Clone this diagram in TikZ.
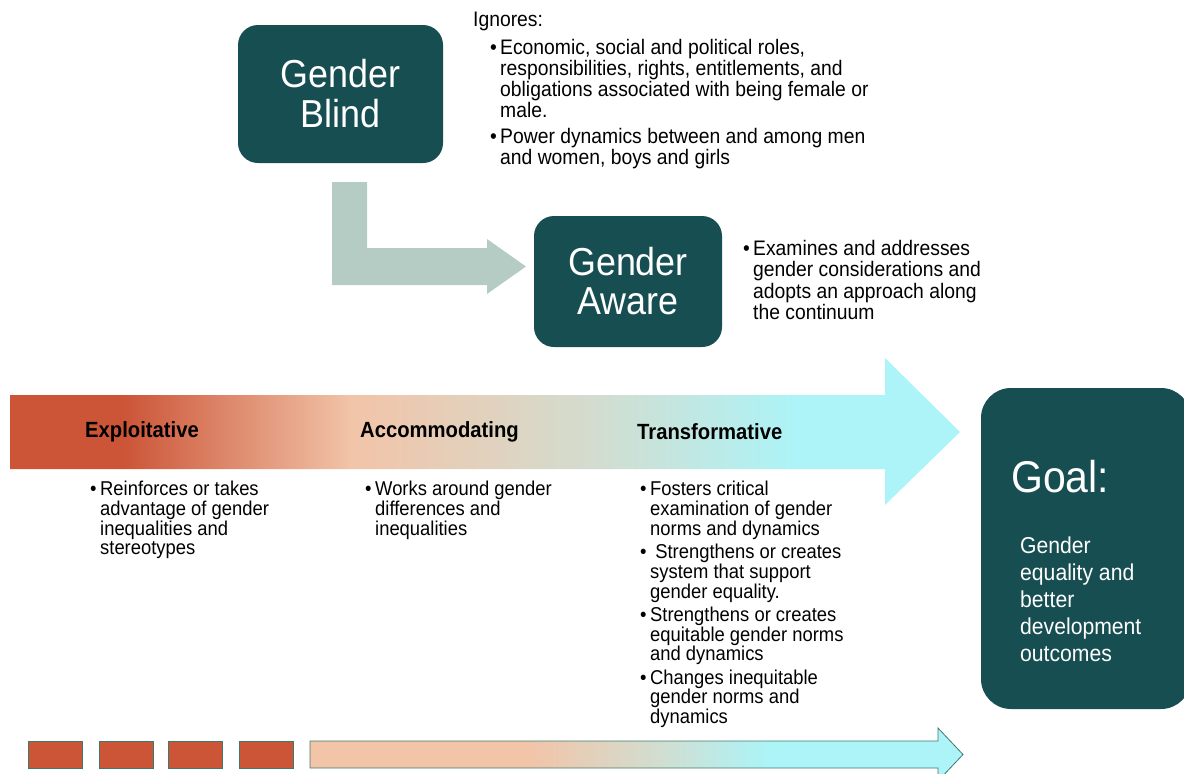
\documentclass[tikz,border=0pt]{standalone}
\usepackage{fontspec}
\setmainfont{Liberation Sans}[FakeStretch=0.92]
\definecolor{gteal}{HTML}{174E52}
\definecolor{garrow}{HTML}{B5CCC4}
\definecolor{cred}{HTML}{CC5538}
\definecolor{cpeach}{HTML}{F2C4A8}
\definecolor{cmid}{HTML}{D2DDD0}
\definecolor{ccyan}{HTML}{ACF4F8}
\definecolor{coutline}{HTML}{3E7A6C}
\pgfdeclarehorizontalshading{bigshade}{100bp}{color(0bp)=(cred); color(31bp)=(cred); color(43bp)=(cpeach); color(56bp)=(cmid); color(66.5bp)=(ccyan); color(100bp)=(ccyan)}
\pgfdeclarehorizontalshading{smallshade}{100bp}{color(0bp)=(cpeach); color(41.8bp)=(cpeach); color(51.6bp)=(cmid); color(60.2bp)=(ccyan); color(100bp)=(ccyan)}
\newcommand\bul{\makebox[10pt][l]{•}}
\newcommand\ind{\hspace*{10pt}}
\tikzset{
  tealbox/.style={fill=gteal, rounded corners=20pt, text=white, align=center, inner sep=0pt},
  body/.style={font=\fontsize{21}{21}\selectfont, align=left, anchor=north west, inner sep=0pt},
  lowbody/.style={font=\fontsize{20}{19.7}\selectfont, align=left, anchor=north west, inner sep=0pt},
  colhead/.style={font=\bfseries\fontsize{22}{24}\selectfont, anchor=west, inner sep=0pt},
  sq/.style={fill=cred, draw=coutline, line width=0.8pt}
}
\begin{document}
\begin{tikzpicture}[x=1pt,y=-1pt]
\useasboundingbox (0,0) rectangle (1184,774);
% top boxes
\node[tealbox, minimum width=205pt, minimum height=138pt, font=\fontsize{39}{40}\selectfont] (blind) at (340.5,94) {Gender\\Blind};
\node[tealbox, minimum width=188pt, minimum height=131pt, font=\fontsize{39}{39}\selectfont] (aware) at (628,281.5) {Gender\\Aware};
% L arrow
\fill[garrow] (332,182) -- (367,182) -- (367,248) -- (487,248) -- (487,239) -- (526,266.5) -- (487,294) -- (487,285) -- (332,285) -- cycle;
% texts top
\node[body] (ign) at (473,12) {Ignores:};
\node[body] (ignlist) at (490,39) {\bul Economic, social and political roles,\\
\ind responsibilities, rights, entitlements, and\\
\ind obligations associated with being female or\\
\ind male.\\[5pt]
\bul Power dynamics between and among men\\
\ind and women, boys and girls};
\node[body, font=\fontsize{21}{21.3}\selectfont] (awarelist) at (743,240) {\bul Examines and addresses\\
\ind gender considerations and\\
\ind adopts an approach along\\
\ind the continuum};
% big arrow
\shade[shading=bigshade] (10,395) -- (885,395) -- (885,358) -- (960,432) -- (885,505) -- (885,469) -- (10,469) -- cycle;
\node[colhead] (expl) at (85,432) {Exploitative};
\node[colhead] (acc) at (360,432) {Accommodating};
\node[colhead] (trans) at (637,432) {Transformative};
\node[lowbody] (expllist) at (90,481) {\bul Reinforces or takes\\
\ind advantage of gender\\
\ind inequalities and\\
\ind stereotypes};
\node[lowbody] (acclist) at (365,481) {\bul Works around gender\\
\ind differences and\\
\ind inequalities};
\node[lowbody] (translist) at (640,481) {\bul Fosters critical\\
\ind examination of gender\\
\ind norms and dynamics\\[4pt]
\bul\ Strengthens or creates\\
\ind system that support\\
\ind gender equality.\\[3.5pt]
\bul Strengthens or creates\\
\ind equitable gender norms\\
\ind and dynamics\\[3.5pt]
\bul Changes inequitable\\
\ind gender norms and\\
\ind dynamics};
% goal box
\node[tealbox, rounded corners=30pt, minimum width=210pt, minimum height=321pt] (goal) at (1086,548.5) {};
\node[font=\fontsize{44.5}{45}\selectfont, text=white, anchor=west, inner sep=0pt] (goaltitle) at (1011,477) {Goal:};
\node[body, text=white, font=\fontsize{23}{26.8}\selectfont] (goaltext) at (1020,537) {Gender\\equality and\\better\\development\\outcomes};
% bottom
\node[sq, minimum width=54pt, minimum height=27pt, inner sep=0pt] (s1) at (55,754.5) {};
\node[sq, minimum width=54pt, minimum height=27pt, inner sep=0pt] (s2) at (126,754.5) {};
\node[sq, minimum width=54pt, minimum height=27pt, inner sep=0pt] (s3) at (195,754.5) {};
\node[sq, minimum width=54pt, minimum height=27pt, inner sep=0pt] (s4) at (266.5,754.5) {};
\shade[shading=smallshade, draw=coutline, line width=0.8pt] (310,741) -- (938,741) -- (938,728) -- (963,754.5) -- (938,781) -- (938,768) -- (310,768) -- cycle;
\end{tikzpicture}
\end{document}
